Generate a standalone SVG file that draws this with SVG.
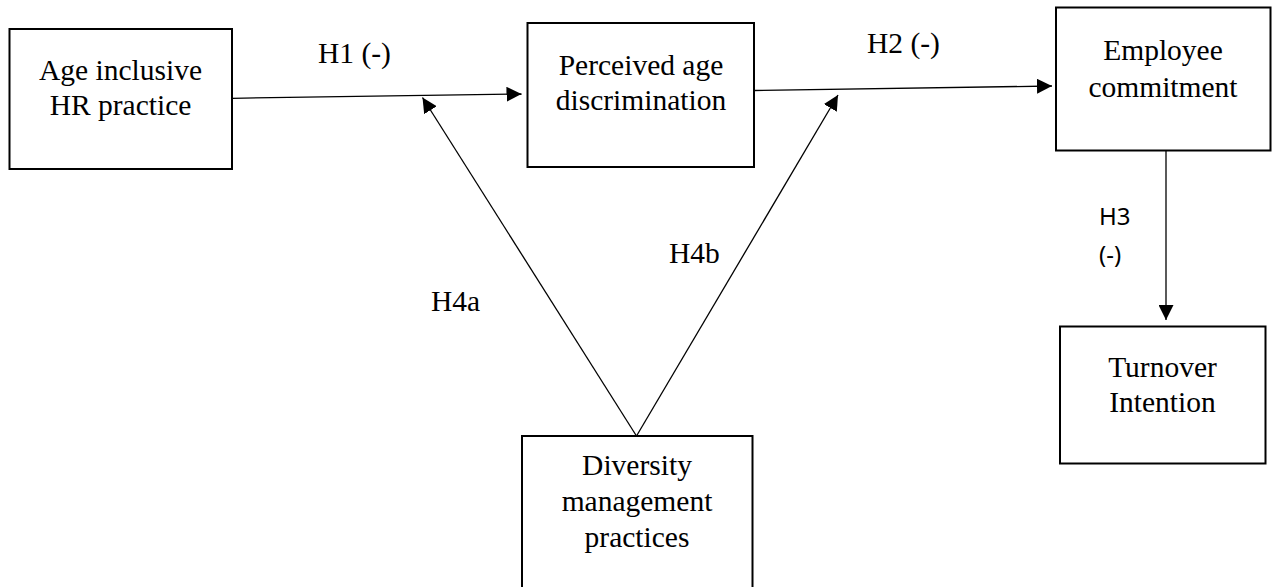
<svg xmlns="http://www.w3.org/2000/svg" width="1272" height="587" viewBox="0 0 1272 587">
  <style>
    .box { fill: #ffffff; stroke: #000000; stroke-width: 2; }
    .lbl { font-family: "Liberation Serif", "Times New Roman", serif; font-size: 29.5px; fill: #000000; }
    .node text { text-anchor: middle; }
    .sans { font-family: "Noto Sans", "Open Sans", "DejaVu Sans", sans-serif; font-size: 24px; fill: #000000; }
    .edge { stroke: #000000; stroke-width: 1.3; fill: none; marker-end: url(#arrow); }
  </style>
  <defs>
    <marker id="arrow" markerUnits="userSpaceOnUse" markerWidth="15" markerHeight="15" refX="15" refY="7.5" orient="auto">
      <path d="M0,0 L15,7.5 L0,15 Z" fill="#000000"/>
    </marker>
  </defs>
  <rect width="1272" height="587" fill="#ffffff"/>

  <!-- connectors and their hypothesis labels -->
  <g id="connectors">
    <line class="edge" x1="232" y1="98.3" x2="521.5" y2="94"/>
    <line class="edge" x1="754" y1="90.5" x2="1052" y2="86"/>
    <line class="edge" x1="1166" y1="151" x2="1166" y2="320"/>
    <line class="edge" x1="636.5" y1="436" x2="422.5" y2="97.5"/>
    <line class="edge" x1="636.5" y1="436" x2="838" y2="95"/>
    <text class="lbl" x="318" y="63">H1 (-)</text>
    <text class="lbl" x="867" y="53">H2 (-)</text>
    <text class="sans" x="1099" y="225">H3</text>
    <text class="sans" x="1099" y="263">(-)</text>
    <text class="lbl" x="431" y="310.5">H4a</text>
    <text class="lbl" x="669" y="262.5">H4b</text>
  </g>

  <g id="age-inclusive-hr" class="node">
    <rect class="box" x="9.5" y="29" width="222.5" height="140"/>
    <text class="lbl" x="120.5" y="79.5">Age inclusive</text>
    <text class="lbl" x="120.5" y="115">HR practice</text>
  </g>

  <g id="perceived-age-discrimination" class="node">
    <rect class="box" x="527.5" y="23" width="226.5" height="144"/>
    <text class="lbl" x="641" y="75">Perceived age</text>
    <text class="lbl" x="641" y="110">discrimination</text>
  </g>

  <g id="employee-commitment" class="node">
    <rect class="box" x="1056" y="7.5" width="214.5" height="143"/>
    <text class="lbl" x="1163" y="60">Employee</text>
    <text class="lbl" x="1163" y="97">commitment</text>
  </g>

  <g id="turnover-intention" class="node">
    <rect class="box" x="1060" y="326.5" width="205.5" height="137"/>
    <text class="lbl" x="1162.5" y="377">Turnover</text>
    <text class="lbl" x="1162.5" y="412">Intention</text>
  </g>

  <g id="diversity-management" class="node">
    <rect class="box" x="522" y="436" width="230.5" height="170"/>
    <text class="lbl" x="637" y="475">Diversity</text>
    <text class="lbl" x="637" y="511">management</text>
    <text class="lbl" x="637" y="546.5">practices</text>
  </g>
</svg>
